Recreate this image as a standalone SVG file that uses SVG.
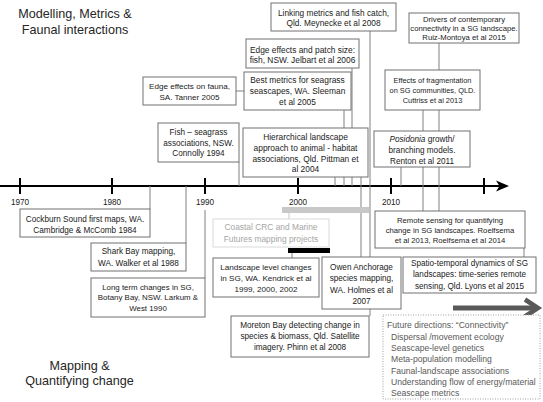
<svg xmlns="http://www.w3.org/2000/svg" width="543" height="402" viewBox="0 0 543 402">
<defs>
<style>
text{font-family:"Liberation Sans",Arial,sans-serif;fill:#1a1a1a;text-anchor:middle}
.box{fill:#fff;stroke:#707070;stroke-width:1}
.c{stroke:#808080;stroke-width:1;fill:none}
.tick{stroke:#000;stroke-width:2}
.yr{font-size:8.2px}
.title{font-size:12.6px;fill:#262626}
.fut{font-size:8.6px;fill:#595959;text-anchor:start}
</style>
</defs>
<rect width="543" height="402" fill="#fff"/>

<g id="titles">
<text class="title" x="75" y="18">Modelling, Metrics &amp;</text>
<text class="title" x="75" y="34">Faunal interactions</text>
<text class="title" x="79.5" y="370">Mapping &amp;</text>
<text class="title" x="79.5" y="385">Quantifying change</text>
</g>

<g id="timeline">
<line x1="0" y1="186" x2="503" y2="186" stroke="#000" stroke-width="2"/>
<path d="M509,186 L496,180.5 L499.5,186 L496,191.5 Z" fill="#000"/>
<line class="tick" x1="20" y1="178" x2="20" y2="194"/>
<line class="tick" x1="112" y1="178" x2="112" y2="194"/>
<line class="tick" x1="205" y1="178" x2="205" y2="194"/>
<line class="tick" x1="298" y1="178" x2="298" y2="194"/>
<line class="tick" x1="391" y1="178" x2="391" y2="194"/>
<line class="tick" x1="484" y1="178" x2="484" y2="194"/>
<text class="yr" x="20" y="205">1970</text>
<text class="yr" x="112" y="205">1980</text>
<text class="yr" x="205" y="205">1990</text>
<text class="yr" x="298" y="205">2000</text>
<text class="yr" x="391" y="205">2010</text>
</g>

<g id="connectors">
<line class="c" x1="236" y1="91" x2="244" y2="91"/>
<line class="c" x1="370" y1="31" x2="370" y2="316"/>
<line class="c" x1="352" y1="68" x2="352" y2="186"/>
<line class="c" x1="344" y1="110" x2="344" y2="186"/>
<line class="c" x1="335" y1="177" x2="335" y2="186"/>
<line class="c" x1="239" y1="162" x2="239" y2="186"/>
<line class="c" x1="361" y1="140" x2="361" y2="257"/>
<line class="c" x1="439" y1="43" x2="439" y2="211"/>
<line class="c" x1="423" y1="110" x2="423" y2="211"/>
<line class="c" x1="401" y1="167" x2="401" y2="186"/>
<line class="c" x1="524" y1="248" x2="524" y2="257"/>
<line class="c" x1="150" y1="186" x2="150" y2="209"/>
<line class="c" x1="186" y1="186" x2="186" y2="243"/>
<line class="c" x1="205" y1="210" x2="205" y2="278"/>
<line x1="289" y1="213" x2="289" y2="219" stroke="#c8c8c8" stroke-width="1"/>
<line class="c" x1="292" y1="253" x2="292" y2="258"/>
</g>

<g id="bar-grey"><rect x="282" y="207" width="87" height="6" fill="#c8c8c8"/></g>
<g id="bar-black"><rect x="288" y="248" width="42" height="5" fill="#000"/></g>

<g id="n-meynecke">
<rect class="box" x="271" y="3" width="125" height="28"/>
<text x="333.5" y="16" font-size="8.3">Linking metrics and fish catch,</text>
<text x="333.5" y="26" font-size="8.3">Qld. Meynecke et al 2008</text>
</g>

<g id="n-jelbart">
<rect class="box" x="246" y="39" width="113" height="29"/>
<text x="302.5" y="52.5" font-size="8.4">Edge effects and patch size:</text>
<text x="302.5" y="63" font-size="8.4">fish, NSW. Jelbart et al 2006</text>
</g>

<g id="n-sleeman">
<rect class="box" x="244" y="72" width="107" height="38"/>
<text x="297.5" y="83" font-size="8.4">Best metrics for seagrass</text>
<text x="297.5" y="94" font-size="8.4">seascapes, WA. Sleeman</text>
<text x="297.5" y="105" font-size="8.4">et al 2005</text>
</g>

<g id="n-tanner">
<rect class="box" x="143" y="77" width="93" height="28"/>
<text x="189.5" y="89" font-size="8.1">Edge effects on fauna,</text>
<text x="189.5" y="99.5" font-size="8.1">SA. Tanner 2005</text>
</g>

<g id="n-connolly">
<rect class="box" x="158" y="123" width="81" height="39"/>
<text x="198.5" y="135.3" font-size="8.2">Fish – seagrass</text>
<text x="198.5" y="145.7" font-size="8.2">associations, NSW.</text>
<text x="198.5" y="156.3" font-size="8.2">Connolly 1994</text>
</g>

<g id="n-pittman">
<rect class="box" x="243" y="128" width="125" height="49"/>
<text x="305.5" y="139.7" font-size="8.4">Hierarchical landscape</text>
<text x="305.5" y="150.7" font-size="8.4">approach to animal - habitat</text>
<text x="305.5" y="162" font-size="8.4">associations, Qld. Pittman et</text>
<text x="305.5" y="172.3" font-size="8.4">al 2004</text>
</g>

<g id="n-ruiz">
<rect class="box" x="409" y="13" width="110" height="30"/>
<text x="464" y="22" font-size="7.7">Drivers of contemporary</text>
<text x="464" y="31" font-size="7.7">connectivity in a SG landscape.</text>
<text x="464" y="39.8" font-size="7.7">Ruiz-Montoya et al 2015</text>
</g>

<g id="n-cuttriss">
<rect class="box" x="385" y="70" width="95" height="40"/>
<text x="432.5" y="83" font-size="7.4">Effects of fragmentation</text>
<text x="432.5" y="93" font-size="7.4">on SG communities, QLD.</text>
<text x="432.5" y="102.5" font-size="7.4">Cuttriss et al 2013</text>
</g>

<g id="n-renton">
<rect class="box" x="374" y="131" width="96" height="36"/>
<text x="422" y="141.5" font-size="8.2"><tspan font-style="italic">Posidonia</tspan> growth/</text>
<text x="422" y="152.5" font-size="8.2">branching models.</text>
<text x="422" y="164" font-size="8.2">Renton et al 2011</text>
</g>

<g id="n-roelfsema">
<rect class="box" x="375" y="211" width="150" height="37"/>
<text x="450" y="222.8" font-size="7.7">Remote sensing for quantifying</text>
<text x="450" y="232.8" font-size="7.7">change in SG landscapes. Roelfsema</text>
<text x="450" y="242.8" font-size="7.7">et al 2013, Roelfsema et al 2014</text>
</g>

<g id="n-lyons">
<rect class="box" x="403" y="257" width="133" height="36"/>
<text x="469.5" y="265.8" font-size="8.15">Spatio-temporal dynamics of SG</text>
<text x="469.5" y="277.3" font-size="8.15">landscapes: time-series remote</text>
<text x="469.5" y="288.6" font-size="8.15">sensing, Qld. Lyons et al 2015</text>
</g>

<g id="n-cambridge">
<rect class="box" x="20" y="209" width="130" height="28"/>
<text x="85" y="222.3" font-size="8.2">Cockburn Sound first maps, WA.</text>
<text x="85" y="233" font-size="8.2">Cambridge &amp; McComb 1984</text>
</g>

<g id="n-walker">
<rect class="box" x="91" y="243" width="95" height="28"/>
<text x="138.5" y="254" font-size="8.2">Shark Bay mapping,</text>
<text x="138.5" y="265.5" font-size="8.2">WA. Walker et al 1988</text>
</g>

<g id="n-larkum">
<rect class="box" x="91" y="278" width="114" height="39"/>
<text x="148" y="289.5" font-size="7.9">Long term changes in SG,</text>
<text x="148" y="300.2" font-size="7.9">Botany Bay, NSW. Larkum &amp;</text>
<text x="148" y="311" font-size="7.9">West 1990</text>
</g>

<g id="n-coastal">
<rect x="213" y="219" width="116" height="28" fill="#fff" stroke="#d9d9d9" stroke-width="1"/>
<text x="271" y="230.3" font-size="8.4" style="fill:#a6a6a6">Coastal CRC and Marine</text>
<text x="271" y="242" font-size="8.4" style="fill:#a6a6a6">Futures mapping projects</text>
</g>

<g id="n-kendrick">
<rect class="box" x="213" y="258" width="106" height="39"/>
<text x="266" y="270.2" font-size="8.1">Landscape level changes</text>
<text x="266" y="281.2" font-size="8.1">in SG, WA. Kendrick et al</text>
<text x="266" y="292.2" font-size="8.1">1999, 2000, 2002</text>
</g>

<g id="n-holmes">
<rect class="box" x="322" y="257" width="79" height="52"/>
<text x="361.5" y="270" font-size="8.2">Owen Anchorage</text>
<text x="361.5" y="281.3" font-size="8.2">species mapping,</text>
<text x="361.5" y="293" font-size="8.2">WA. Holmes et al</text>
<text x="361.5" y="303.5" font-size="8.2">2007</text>
</g>

<g id="n-phinn">
<rect class="box" x="231" y="316" width="138" height="41"/>
<text x="300" y="328" font-size="8.2">Moreton Bay detecting change in</text>
<text x="300" y="339" font-size="8.2">species &amp; biomass, Qld. Satellite</text>
<text x="300" y="350.3" font-size="8.2">imagery. Phinn et al 2008</text>
</g>

<g id="future-arrow">
<line x1="453" y1="308" x2="537" y2="308" stroke="#595959" stroke-width="5"/>
<polyline points="525,299.5 538,308 525,316.5" fill="none" stroke="#595959" stroke-width="4.5" stroke-linejoin="miter"/>
</g>

<g id="n-future">
<rect x="383" y="315" width="157" height="84" fill="#fff" stroke="#a0a0a0" stroke-width="1" stroke-dasharray="1,1.5"/>
<text class="fut" x="387" y="328">Future directions: “Connectivity”</text>
<text class="fut" x="391" y="340">Dispersal /movement ecology</text>
<text class="fut" x="391" y="351">Seascape-level genetics</text>
<text class="fut" x="391" y="362">Meta-population modelling</text>
<text class="fut" x="391" y="373.5">Faunal-landscape associations</text>
<text class="fut" x="391" y="384.5">Understanding flow of energy/material</text>
<text class="fut" x="391" y="395.5">Seascape metrics</text>
</g>
</svg>
